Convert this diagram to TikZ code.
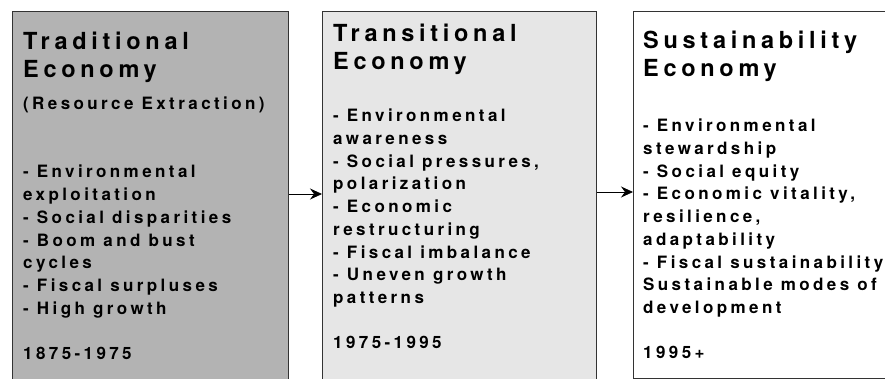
\documentclass[tikz,border=0pt]{standalone}
\usepackage{fontspec}
\setmainfont{Liberation Sans}
\newfontfamily\stagefont[Extension=.otf, LetterSpace=20]{texgyreheros-bold}
\usetikzlibrary{arrows.meta, positioning, calc}

\definecolor{oldfill}{HTML}{B3B3B3}
\definecolor{midfill}{HTML}{E6E6E6}

\begin{document}
\begin{tikzpicture}[x=1pt, y=-1pt,
        stage/.style={draw=black!80, line width=0.9pt, anchor=north west, inner sep=0pt, minimum height=420pt},
        heading/.style={anchor=north west, align=left, inner sep=0pt, font=\stagefont\fontsize{23.5}{28}\selectfont},
        items/.style={anchor=north west, align=left, inner sep=0pt, font=\stagefont\fontsize{17}{22.7}\selectfont},
        arrow/.style={-{Stealth[length=12pt, width=11pt, inset=4pt]}, line width=0.8pt}
    ]
    \useasboundingbox (0,0) rectangle (885,379);
    \clip (0,0) rectangle (885,379);

    % the three stages
    \node[stage, fill=oldfill, minimum width=276pt] (trad) at (12,11) {};
    \node[stage, fill=midfill, minimum width=274pt] (trans) at (322,11) {};
    \node[stage, fill=white, minimum width=270pt, minimum height=367pt] (sust) at (633,11) {};

    % Traditional
    \node[heading] (tradhead) at (23,32) {Traditional\\Economy};
    \node[items] (traditems) at (23,97) {(Resource Extraction)\\[22.7pt]
        \\- Environmental\\exploitation\\- Social disparities\\- Boom and bust\\cycles\\- Fiscal surpluses\\- High growth\\[22.7pt]1875-1975};

    % Transitional
    \node[heading] (transhead) at (333,24) {Transitional\\Economy};
    \node[items] (transitems) at (333,109) {- Environmental\\awareness\\- Social pressures,\\polarization\\- Economic\\restructuring\\- Fiscal imbalance\\- Uneven growth\\patterns\\[22.7pt]1975-1995};

    % Sustainability
    \node[heading] (susthead) at (643,31) {Sustainability\\Economy};
    \node[items] (sustitems) at (643,119) {- Environmental\\stewardship\\- Social equity\\- Economic vitality,\\resilience,\\adaptability\\- Fiscal sustainability\\Sustainable modes of\\development\\[22.7pt]1995+};

    % arrows between stages
    \coordinate (firstlink) at (300,194);
    \coordinate (secondlink) at (610,192);
    \draw[arrow] (trad.east |- firstlink) -- (trans.west |- firstlink);
    \draw[arrow] (trans.east |- secondlink) -- (sust.west |- secondlink);
\end{tikzpicture}
\end{document}
